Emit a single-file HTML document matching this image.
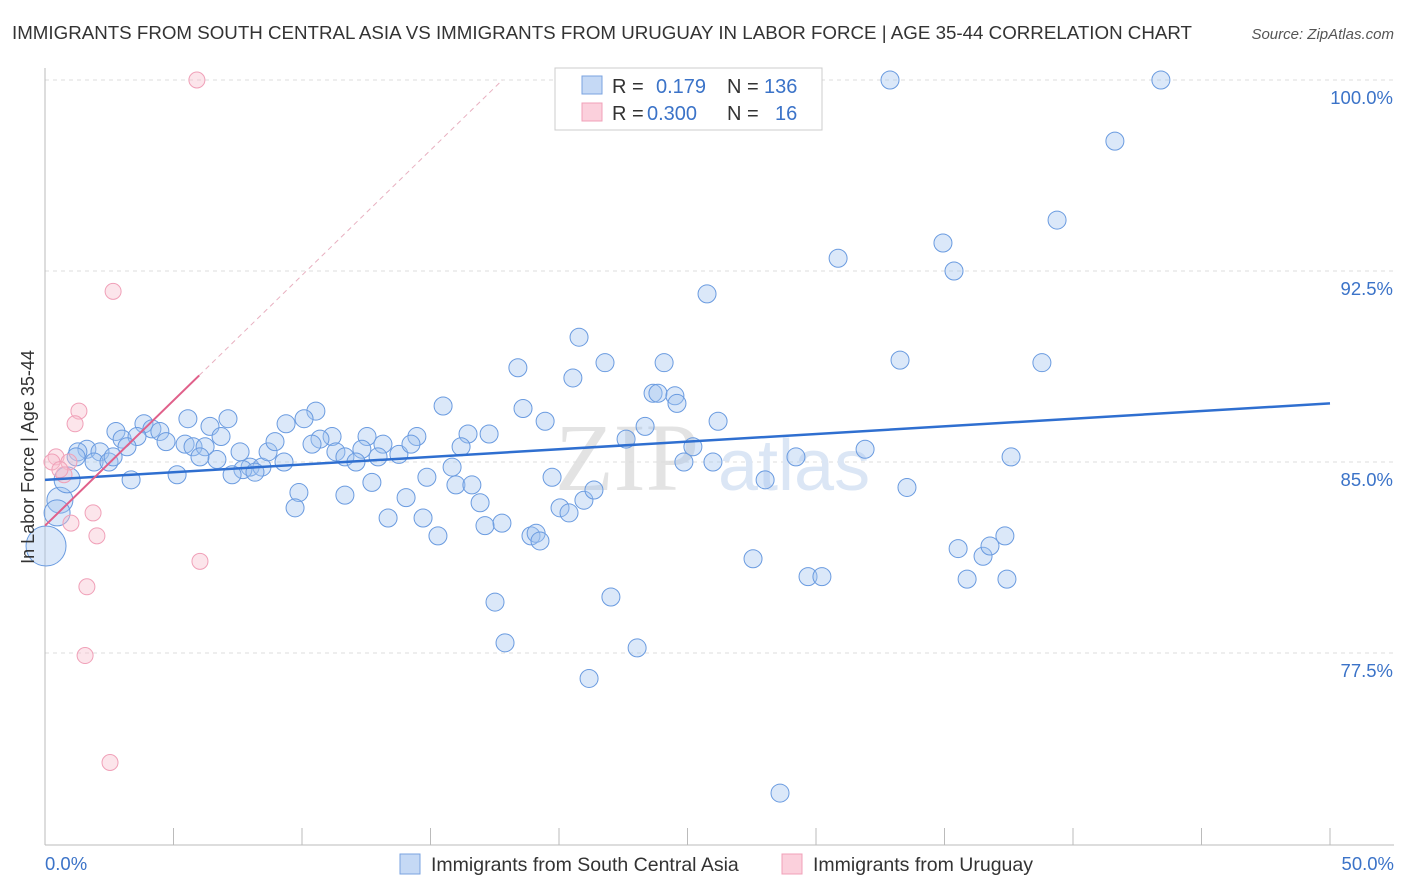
<!DOCTYPE html>
<html><head><meta charset="utf-8">
<style>
body{margin:0;background:#fff;font-family:"Liberation Sans",sans-serif;}
svg{display:block}
</style></head>
<body>
<svg id="chart" width="1406" height="892" viewBox="0 0 1406 892" xmlns="http://www.w3.org/2000/svg">
<text x="12" y="39" font-size="18.5" fill="#333" textLength="1180" lengthAdjust="spacingAndGlyphs">IMMIGRANTS FROM SOUTH CENTRAL ASIA VS IMMIGRANTS FROM URUGUAY IN LABOR FORCE | AGE 35-44 CORRELATION CHART</text>
<text x="1394" y="39" font-size="15" fill="#555" font-style="italic" text-anchor="end">Source: ZipAtlas.com</text>
<g id="grid"></g>
<text x="555" y="490" font-size="96" fill="#ddd" font-family="Liberation Serif, serif" opacity="0.8">ZIP</text>
<text x="718" y="490" font-size="72" fill="#dbe6f5">atlas</text>
<g id="pts"></g>
<g id="lines"></g>
<text transform="translate(34,457) rotate(-90)" font-size="18" fill="#333" text-anchor="middle">In Labor Force | Age 35-44</text>
<text x="45" y="870" font-size="18.5" fill="#3b73c8">0.0%</text>
<text x="1394" y="870" font-size="18.5" fill="#3b73c8" text-anchor="end">50.0%</text>
<g>
<rect x="555" y="68" width="267" height="62" fill="#fff" stroke="#ccc"/>
<rect x="582" y="76" width="20" height="18" fill="#c5d9f5" stroke="#7aa3e0"/>
<rect x="582" y="103" width="20" height="18" fill="#fbd0dc" stroke="#f0a0b8"/>
<text x="612" y="93" font-size="20" fill="#333">R =</text>
<text x="656" y="93" font-size="20" fill="#3b73c8">0.179</text>
<text x="727" y="93" font-size="20" fill="#333">N =</text>
<text x="764" y="93" font-size="20" fill="#3b73c8">136</text>
<text x="612" y="120" font-size="20" fill="#333">R =</text>
<text x="647" y="120" font-size="20" fill="#3b73c8">0.300</text>
<text x="727" y="120" font-size="20" fill="#333">N =</text>
<text x="775" y="120" font-size="20" fill="#3b73c8">16</text>
</g>
<g>
<rect x="400" y="854" width="20" height="20" fill="#c5d9f5" stroke="#7aa3e0"/>
<text x="431" y="871" font-size="19.5" fill="#333">Immigrants from South Central Asia</text>
<rect x="782" y="854" width="20" height="20" fill="#fbd0dc" stroke="#f0a0b8"/>
<text x="813" y="871" font-size="19.5" fill="#333">Immigrants from Uruguay</text>
</g>
</svg>
<script>
const yTicks=[100,92.5,85,77.5];
const yTickLabels=["100.0%","92.5%","85.0%","77.5%"];
const xTicks=[0,5,10,15,20,25,30,35,40,45,50];
const blueX=[32.88,43.42,41.63,39.38,34.94,35.37,30.86,25.76,20.78,21.79,24.09,33.27,38.79,18.40,20.54,23.66,23.85,24.51,24.59,26.19,18.60,19.46,15.49,5.56,7.12,6.42,10.54,10.08,9.38,3.85,4.16,4.47,2.76,3.00,6.85,3.58,4.71,5.45,5.76,6.23,1.63,1.28,2.14,1.21,1.91,2.49,3.19,11.17,10.70,10.39,12.53,13.15,12.33,11.32,11.67,12.10,12.96,13.77,14.47,14.24,17.28,16.46,16.19,15.84,14.86,15.99,16.61,16.93,17.78,17.12,18.91,19.11,19.26,20.04,20.39,20.97,21.36,19.73,22.61,23.35,25.21,24.86,25.99,29.22,31.91,37.59,28.02,33.54,9.30,7.98,8.44,7.59,8.68,8.95,7.70,7.28,8.17,6.69,6.03,5.14,3.35,9.88,9.73,11.67,12.72,14.05,13.35,14.71,15.29,17.51,17.90,22.02,21.17,23.04,27.55,29.69,30.23,35.53,35.88,36.50,36.77,37.35,37.43,28.60,0.58,0.47,0.04,0.86,2.65];
const blueY=[100.0,100.0,97.6,94.5,93.6,92.5,93.0,91.6,89.9,88.9,88.9,89.0,88.9,88.7,88.3,87.7,87.7,87.6,87.3,86.6,87.1,86.6,87.2,86.7,86.7,86.4,87.0,86.7,86.5,86.5,86.3,86.2,86.2,85.9,86.0,86.0,85.8,85.7,85.6,85.6,85.5,85.4,85.4,85.2,85.0,85.0,85.6,86.0,85.9,85.7,86.0,85.7,85.5,85.4,85.2,85.0,85.2,85.3,86.0,85.7,86.1,86.1,85.6,84.8,84.4,84.1,84.1,83.4,82.6,82.5,82.1,82.2,81.9,83.2,83.0,83.5,83.9,84.4,85.9,86.4,85.6,85.0,85.0,85.2,85.5,85.2,84.3,84.0,85.0,84.8,84.8,85.4,85.4,85.8,84.7,84.5,84.6,85.1,85.2,84.5,84.3,83.8,83.2,83.7,84.2,83.6,82.8,82.8,82.1,79.5,77.9,79.7,76.5,77.7,81.2,80.5,80.5,81.6,80.4,81.3,81.7,82.1,80.4,72.0,83.5,83.0,81.7,84.3,85.2];
const blueBig=[0.58,0.47,0.04,0.86];
const pinkX=[5.91,2.65,1.32,1.17,0.43,0.27,0.93,0.74,1.87,1.01,2.02,6.03,1.63,1.56,2.53,0.58];
const pinkY=[100.0,91.7,87.0,86.5,85.2,85.0,85.0,84.5,83.0,82.6,82.1,81.1,80.1,77.4,73.2,84.7];
const blueTrend=[[0,84.3],[50,87.3]];
const pinkTrend=[[0,82.5],[6,88.4]];
const pinkDash=[[6,88.4],[17.8,100]];
const NS="http://www.w3.org/2000/svg";
const X=v=>45+v/50*1285;
const Y=v=>80+(100-v)/7.5*191;
function mk(tag,attrs,parent){const e=document.createElementNS(NS,tag);for(const k in attrs)e.setAttribute(k,attrs[k]);parent.appendChild(e);return e;}
const grid=document.getElementById('grid');
yTicks.forEach((t,i)=>{
 const l=mk('line',{x1:45,x2:1394,y1:Y(t),y2:Y(t),stroke:'#ddd','stroke-dasharray':'4,4'},grid);
 
 
 const tx=mk('text',{x:1393,y:Y(t)+24,'font-size':18.5,fill:'#3b73c8','text-anchor':'end'},grid);
 tx.textContent=yTickLabels[i];
 
 
});
const ax=mk('line',{x1:45,x2:1394,y1:845,y2:845,stroke:'#bbb'},grid);


const ay=mk('line',{x1:45,x2:45,y1:68,y2:845,stroke:'#bbb'},grid);


xTicks.forEach(t=>{
 const l=mk('line',{x1:X(t),x2:X(t),y1:828,y2:845,stroke:'#bbb'},grid);
 
 
});
const pts=document.getElementById('pts');
blueX.forEach((x,i)=>{
 const big=blueBig.indexOf(x)>=0;
 const r=x===0.04?20:(big?13:9);
 const c=mk('circle',{cx:X(x),cy:Y(blueY[i]),r:r,fill:'rgba(160,195,240,0.38)',stroke:'#6a9be0','stroke-width':1},pts);
 
 
});
pinkX.forEach((x,i)=>{
 const c=mk('circle',{cx:X(x),cy:Y(pinkY[i]),r:8,fill:'rgba(248,190,205,0.4)',stroke:'#f0a0b8','stroke-width':1},pts);
 
 
});
const lines=document.getElementById('lines');
const bl=mk('line',{x1:X(blueTrend[0][0]),y1:Y(blueTrend[0][1]),x2:X(blueTrend[1][0]),y2:Y(blueTrend[1][1]),stroke:'#2f6fd0','stroke-width':2.5},lines);


const pl=mk('line',{x1:X(pinkTrend[0][0]),y1:Y(pinkTrend[0][1]),x2:X(pinkTrend[1][0]),y2:Y(pinkTrend[1][1]),stroke:'#e0608a','stroke-width':2},lines);


const pd=mk('line',{x1:X(pinkDash[0][0]),y1:Y(pinkDash[0][1]),x2:X(pinkDash[1][0]),y2:Y(pinkDash[1][1]),stroke:'#e8b0c0','stroke-width':1,'stroke-dasharray':'5,4'},lines);


</script>
</body></html>
